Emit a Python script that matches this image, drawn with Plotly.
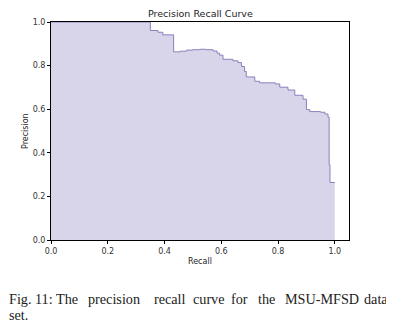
import plotly.graph_objects as go

recall = [0.0, 0.350, 0.377, 0.394, 0.432, 0.455, 0.477, 0.500, 0.524, 0.547,
          0.571, 0.585, 0.594, 0.606, 0.641, 0.659, 0.671, 0.682, 0.688, 0.718,
          0.735, 0.790, 0.806, 0.835, 0.859, 0.888, 0.900, 0.912, 0.950, 0.965,
          0.976, 0.980, 0.983, 1.0]
precision = [1.0, 0.961, 0.953, 0.941, 0.863, 0.866, 0.871, 0.873, 0.875, 0.873,
             0.867, 0.857, 0.848, 0.829, 0.822, 0.814, 0.796, 0.773, 0.748, 0.728,
             0.721, 0.716, 0.701, 0.688, 0.664, 0.646, 0.598, 0.589, 0.586, 0.578,
             0.563, 0.345, 0.264, 0.264]
tick_vals = [0.0, 0.2, 0.4, 0.6, 0.8, 1.0]
tick_text = ["0.0", "0.2", "0.4", "0.6", "0.8", "1.0"]

caption_line1 = ["Fig.", "11:", "The", "precision", "recall", "curve", "for", "the", "MSU-MFSD", "data"]
caption_line2 = ["set."]

# page pixel geometry (page has an 8px body margin)
OFF = 8
W, H = 394 - OFF, 328 - OFF
PL, PR, PT, PB = 51, 349, 18, 240
pw, ph = PR - PL, PB - PT


def px(X):
    return (X - PL) / pw


def py(Y):
    return (PB - Y) / ph


fig = go.Figure()
fig.add_trace(go.Scatter(
    x=recall, y=precision, mode="lines", line_shape="hv",
    fill="tozeroy", fillcolor="#d8d5eb",
    line=dict(color="#8682bb", width=1), hoverinfo="skip", showlegend=False))

tickfont = dict(family="DejaVu Sans", size=8, color="#333333")
axis_common = dict(showgrid=False, zeroline=False, ticks="outside", ticklen=3,
                   tickwidth=0.8, tickcolor="#000", showline=True, linecolor="#000",
                   linewidth=1, mirror=True, tickfont=tickfont,
                   tickvals=tick_vals, ticktext=tick_text)
fig.update_xaxes(range=[0, 1.05], **axis_common)
fig.update_yaxes(range=[0, 1.0], **axis_common)

annotations = [
    dict(text="Precision Recall Curve", x=0.5, y=py(9), xref="paper", yref="paper",
         showarrow=False, font=dict(family="DejaVu Sans", size=9.5, color="#222"),
         xanchor="center", yanchor="middle"),
    dict(text="Recall", x=0.5, y=py(262), xref="paper", yref="paper",
         showarrow=False, font=dict(family="DejaVu Sans", size=8, color="#222"),
         xanchor="center", yanchor="middle"),
    dict(text="Precision", x=px(25), y=0.5, xref="paper", yref="paper",
         showarrow=False, textangle=-90, font=dict(family="DejaVu Sans", size=8, color="#222"),
         xanchor="center", yanchor="middle"),
]
word_x = [8, 34, 55, 87, 153, 192, 230, 257, 284, 363]
capfont = dict(family="Liberation Serif", size=14.2, color="#222")
for w, X in zip(caption_line1, word_x):
    annotations.append(dict(text=w, x=px(X), y=py(300), xref="paper", yref="paper",
                            showarrow=False, font=capfont, xanchor="left", yanchor="middle",
                            borderpad=0))
for w in caption_line2:
    annotations.append(dict(text=w, x=px(8), y=py(316), xref="paper", yref="paper",
                            showarrow=False, font=capfont, xanchor="left", yanchor="middle",
                            borderpad=0))

fig.update_layout(
    width=W, height=H,
    margin=dict(l=PL - OFF, r=W - (PR - OFF), t=PT - OFF, b=H - (PB - OFF)),
    plot_bgcolor="white", paper_bgcolor="white",
    annotations=annotations,
)

fig.write_html("out.html")
